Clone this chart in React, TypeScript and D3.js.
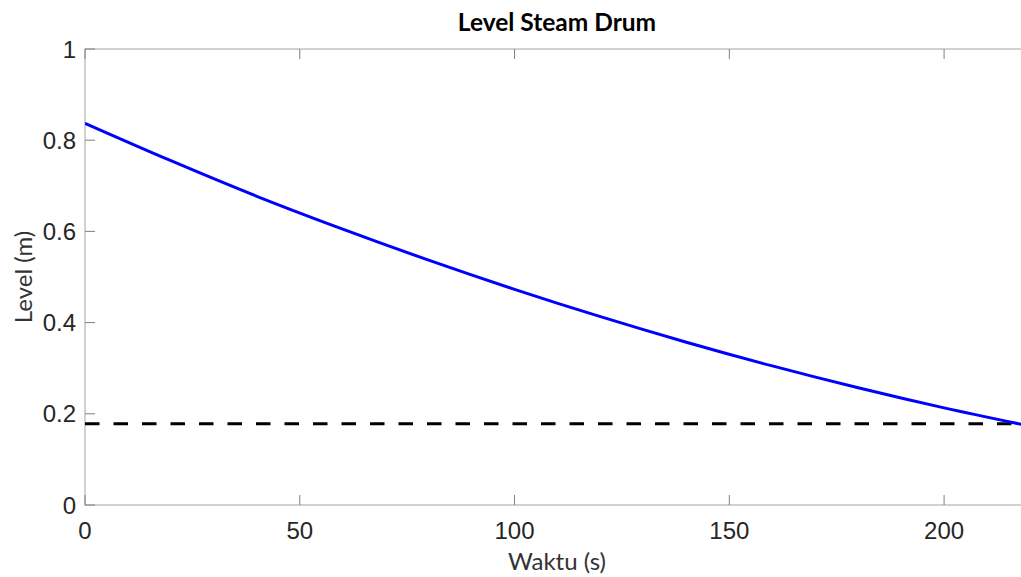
import { useEffect, useRef } from 'react';
import * as d3 from 'd3';

// values
const timeS = [0, 20, 40, 60, 80, 100, 120, 140, 160, 180, 200, 220];
const levelM = [0.837, 0.755, 0.677, 0.605, 0.537, 0.473, 0.413, 0.357, 0.305, 0.257, 0.213, 0.173];
const setpoint = 0.178;
const xTicks = [0, 50, 100, 150, 200];
const yTicks = [0, 0.2, 0.4, 0.6, 0.8, 1];

export default function App() {
  const svgRef = useRef<SVGSVGElement>(null);

  useEffect(() => {
    document.body.style.margin = '0';
    if (!svgRef.current) return;
    const svg = d3.select(svgRef.current);
    svg.selectAll('*').remove();

    const W = 1021, H = 577;
    const left = 85, right = 1030, top = 49, bottom = 505;

    const x = d3.scaleLinear().domain([0, 220]).range([left, right]);
    const y = d3.scaleLinear().domain([0, 1]).range([bottom, top]);

    svg.attr('width', W).attr('height', H);
    svg.append('rect').attr('width', W).attr('height', H).attr('fill', '#fff');

    const tickFont = '"Liberation Sans", Arial, sans-serif';
    const labelFont = 'Lato, "Open Sans", sans-serif';

    // frame
    svg.append('rect')
      .attr('x', left).attr('y', top)
      .attr('width', right - left).attr('height', bottom - top)
      .attr('fill', 'none').attr('stroke', '#b3b3b3').attr('stroke-width', 1.2);

    // inward ticks
    const tk = 10;
    xTicks.forEach(t => {
      svg.append('line').attr('x1', x(t)).attr('x2', x(t)).attr('y1', bottom).attr('y2', bottom - tk)
        .attr('stroke', '#808080').attr('stroke-width', 1);
      svg.append('line').attr('x1', x(t)).attr('x2', x(t)).attr('y1', top).attr('y2', top + tk)
        .attr('stroke', '#808080').attr('stroke-width', 1);
      svg.append('text').attr('x', x(t)).attr('y', 539)
        .attr('text-anchor', 'middle').attr('font-family', tickFont).attr('font-size', 24)
        .attr('fill', '#262626').text(d3.format('d')(t));
    });
    yTicks.forEach(v => {
      svg.append('line').attr('x1', left).attr('x2', left + tk).attr('y1', y(v)).attr('y2', y(v))
        .attr('stroke', '#808080').attr('stroke-width', 1);
      svg.append('text').attr('x', 76).attr('y', y(v) + 8.5)
        .attr('text-anchor', 'end').attr('font-family', tickFont).attr('font-size', 24)
        .attr('fill', '#262626').text(v === 0 || v === 1 ? String(v) : v.toFixed(1));
    });

    const plot = svg.append('g');
    svg.append('clipPath').attr('id', 'plotClip')
      .append('rect').attr('x', left).attr('y', top).attr('width', right - left).attr('height', bottom - top);
    plot.attr('clip-path', 'url(#plotClip)');

    // setpoint
    plot.append('line')
      .attr('x1', x(0)).attr('x2', x(220))
      .attr('y1', y(setpoint)).attr('y2', y(setpoint))
      .attr('stroke', '#000').attr('stroke-width', 3)
      .attr('stroke-dasharray', '14.5 14');

    // level
    const line = d3.line<number>()
      .x((_, i) => x(timeS[i]))
      .y(d => y(d))
      .curve(d3.curveMonotoneX);
    plot.append('path')
      .datum(levelM)
      .attr('fill', 'none').attr('stroke', '#0000ff').attr('stroke-width', 3)
      .attr('d', line);

    // title and labels
    svg.append('text').attr('x', 557).attr('y', 31)
      .attr('text-anchor', 'middle').attr('font-family', labelFont).attr('font-weight', 'bold')
      .attr('font-size', 24.5).attr('fill', '#000').text('Level Steam Drum');
    svg.append('text').attr('x', 557).attr('y', 570)
      .attr('text-anchor', 'middle').attr('font-family', labelFont)
      .attr('font-size', 24).attr('fill', '#333').text('Waktu (s)');
    svg.append('text')
      .attr('transform', `translate(32,${(top + bottom) / 2}) rotate(-90)`)
      .attr('text-anchor', 'middle').attr('font-family', labelFont)
      .attr('font-size', 24).attr('fill', '#333').text('Level (m)');
  }, []);

  return <svg ref={svgRef} style={{ display: 'block' }}></svg>;
}
